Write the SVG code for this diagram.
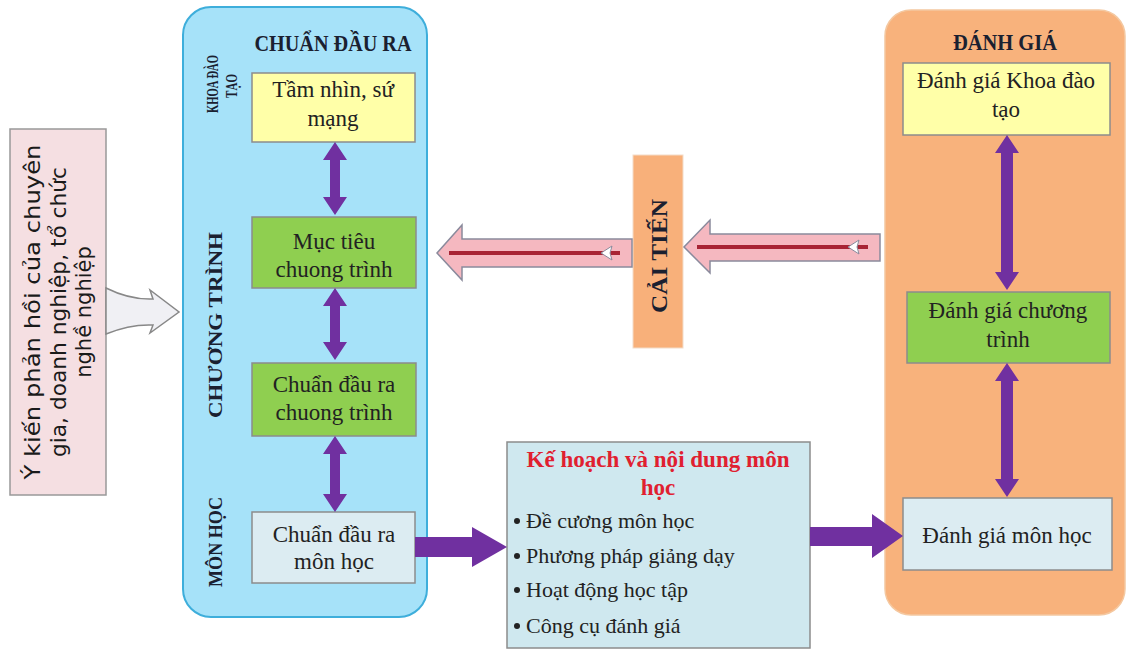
<svg xmlns="http://www.w3.org/2000/svg" width="1127" height="651" viewBox="0 0 1127 651">
<style>
.box{stroke:#8c8c8c;stroke-width:1.5}
.yel{fill:#ffffa8}
.grn{fill:#8fcf50}
.lbl{fill:#dcecf2}
.t{font-family:"Liberation Serif",serif;font-size:23px;fill:#222;text-anchor:middle}
.side{font-family:"Liberation Serif",serif;font-weight:bold;fill:#1a2030;text-anchor:middle}
.ttl{font-family:"Liberation Serif",serif;font-weight:bold;font-size:23px;fill:#1a2030;text-anchor:middle}
.pur{fill:#7030a0}
.pink{fill:#f5b8c0;stroke:#8a8a9c;stroke-width:1.5}
.redline{stroke:#a82434;stroke-width:4}
.wh{fill:#fff;stroke:#8a8a9c;stroke-width:1}
</style>

<g id="feedback">
<rect x="10" y="129" width="96" height="366" fill="#f5dfe2" stroke="#999" stroke-width="1.5"/>
<g transform="translate(58,312) rotate(-90)" font-family="DejaVu Sans,sans-serif" font-size="21" fill="#1a1a1a" text-anchor="middle">
<text x="0" y="-18" textLength="335" lengthAdjust="spacingAndGlyphs">Ý kiến phản hồi của chuyên</text>
<text x="0" y="8" textLength="290" lengthAdjust="spacingAndGlyphs">gia, doanh nghiệp, tổ chức</text>
<text x="0" y="33">nghề nghiệp</text>
</g>
</g>

<g id="outcomes">
<rect x="183" y="7" width="244" height="610" rx="28" fill="#a6e2f9" stroke="#3eaedb" stroke-width="2"/>
<text class="ttl" x="333" y="51" textLength="157" lengthAdjust="spacingAndGlyphs">CHUẨN ĐẦU RA</text>
<text class="side" font-size="17" transform="translate(218,84) rotate(-90)" textLength="58" lengthAdjust="spacingAndGlyphs">KHOA ĐÀO</text>
<text class="side" font-size="17" transform="translate(237,86) rotate(-90)" textLength="24" lengthAdjust="spacingAndGlyphs">TẠO</text>
<text class="side" font-size="19" transform="translate(222,325) rotate(-90)" textLength="186" lengthAdjust="spacingAndGlyphs">CHƯƠNG TRÌNH</text>
<text class="side" font-size="19" transform="translate(222,542) rotate(-90)" textLength="90" lengthAdjust="spacingAndGlyphs">MÔN HỌC</text>
</g>

<g id="vision">
<rect class="box yel" x="252" y="73" width="163" height="69"/>
<text class="t" x="333" y="97">Tầm nhìn, sứ</text>
<text class="t" x="333" y="126">mạng</text>
</g>

<g id="program-objectives">
<rect class="box grn" x="252" y="217" width="164" height="71"/>
<text class="t" x="334" y="249">Mục tiêu</text>
<text class="t" x="334" y="277">chuong trình</text>
</g>

<g id="program-outcomes">
<rect class="box grn" x="252" y="363" width="164" height="73"/>
<text class="t" x="334" y="392">Chuẩn đầu ra</text>
<text class="t" x="334" y="420">chuong trình</text>
</g>

<g id="course-outcomes">
<rect class="box lbl" x="252" y="512" width="163" height="71"/>
<text class="t" x="334" y="542">Chuẩn đầu ra</text>
<text class="t" x="334" y="569">môn học</text>
</g>

<g id="improve">
<rect x="633" y="155" width="50" height="193" fill="#f8b07a" stroke="#f3dcc8" stroke-width="1"/>
<text class="ttl" font-size="22" transform="translate(667,256) rotate(-90)" textLength="114" lengthAdjust="spacingAndGlyphs">CẢI TIẾN</text>
</g>

<g id="course-plan">
<rect class="box" x="507" y="442" width="303" height="206" fill="#cfe8ef"/>
<text x="658" y="467" font-family="Liberation Serif,serif" font-weight="bold" font-size="23" fill="#e02030" text-anchor="middle" textLength="263" lengthAdjust="spacingAndGlyphs">Kế hoạch và nội dung môn</text>
<text x="658" y="495" font-family="Liberation Serif,serif" font-weight="bold" font-size="23" fill="#e02030" text-anchor="middle">học</text>
<g font-family="Liberation Serif,serif" font-size="22" fill="#222">
<circle cx="517" cy="521" r="3" fill="#222"/>
<text x="526" y="528">Đề cương môn học</text>
<circle cx="517" cy="556" r="3" fill="#222"/>
<text x="526" y="563">Phương pháp giảng dạy</text>
<circle cx="517" cy="590" r="3" fill="#222"/>
<text x="526" y="597">Hoạt động học tập</text>
<circle cx="517" cy="626" r="3" fill="#222"/>
<text x="526" y="633">Công cụ đánh giá</text>
</g>
</g>

<g id="assessment">
<rect x="885" y="10" width="240" height="605" rx="26" fill="#f8b27c" stroke="#f4c8a0" stroke-width="1.5"/>
<text class="ttl" x="1005" y="50" textLength="104" lengthAdjust="spacingAndGlyphs">ĐÁNH GIÁ</text>
</g>

<g id="eval-faculty">
<rect class="box yel" x="903" y="63" width="207" height="72"/>
<text class="t" x="1006" y="88">Đánh giá Khoa đào</text>
<text class="t" x="1006" y="117">tạo</text>
</g>

<g id="eval-program">
<rect class="box grn" x="907" y="292" width="203" height="71"/>
<text class="t" x="1008" y="318">Đánh giá chương</text>
<text class="t" x="1008" y="347">trình</text>
</g>

<g id="eval-course">
<rect class="box lbl" x="903" y="498" width="209" height="72"/>
<text class="t" x="1007" y="543">Đánh giá môn học</text>
</g>

<g id="connectors">
<path d="M106,288 Q130,300 153,299 L150,290 L179,312 L150,333 L153,325 Q130,324 106,334 Z" fill="#f0f0f4" stroke="#888" stroke-width="1.5"/>
<polygon class="pur" points="335,142 347,160 340,160 340,197 347,197 335,215 323,197 330,197 330,160 323,160"/>
<polygon class="pur" points="335,288 347,306 340,306 340,342 347,342 335,360 323,342 330,342 330,306 323,306"/>
<polygon class="pur" points="335,436 347,454 340,454 340,494 347,494 335,512 323,494 330,494 330,454 323,454"/>
<polygon class="pur" points="1007,135 1019,153 1013,153 1013,272 1019,272 1007,290 995,272 1001,272 1001,153 995,153"/>
<polygon class="pur" points="1007,363 1019,381 1013,381 1013,479 1019,479 1007,497 995,479 1001,479 1001,381 995,381"/>
<polygon class="pur" points="415,537 472,537 472,527 507,547 472,567 472,557 415,557"/>
<polygon class="pur" points="810,527 872,527 872,514 903,536 872,558 872,546 810,546"/>
<polygon class="pink" points="632,239 462,239 462,225 437,253 462,280 462,267 632,267"/>
<line class="redline" x1="449" y1="253" x2="620" y2="253"/>
<polygon class="wh" points="601,253 612,246 610,253 612,260"/>
<polygon class="pink" points="880,234 710,234 710,220 684,247 710,273 710,261 880,261"/>
<line class="redline" x1="697" y1="247" x2="868" y2="247"/>
<polygon class="wh" points="848,247 859,240 857,247 859,254"/>
</g>
</svg>
